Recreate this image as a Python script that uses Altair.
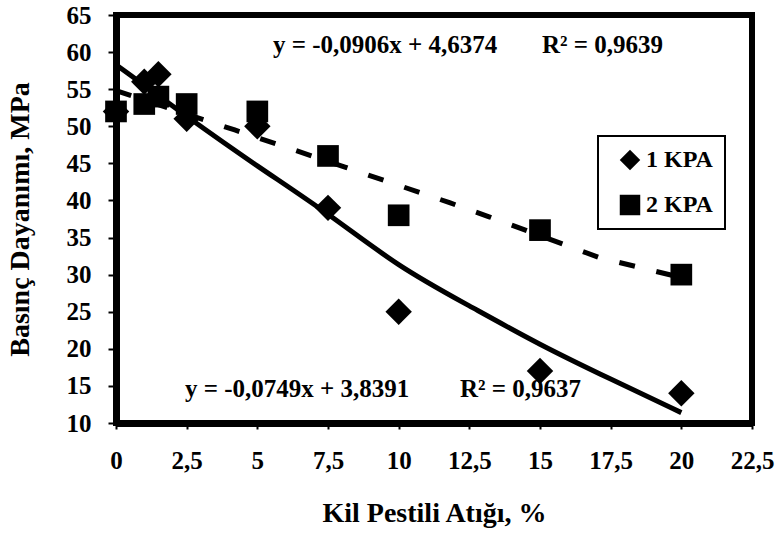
import altair as alt
import pandas as pd

FONT = "Liberation Serif"

# measured points
x_vals = [0, 1, 1.5, 2.5, 5, 7.5, 10, 15, 20]
kpa1 = [52, 56, 57, 51, 50, 39, 25, 17, 14]
kpa2 = [52, 53, 54, 53, 52, 46, 38, 36, 30]
series_names = ["1 KPA", "2 KPA"]

# trend curves
trend1_x = [0, 2.5, 5, 7.5, 10, 12.5, 15, 17.5, 20]
trend1_y = [58.3, 51.3, 44.6, 38.3, 31.0, 25.8, 20.5, 15.9, 11.4]
trend2_x = [0, 4.2, 8.1, 11.8, 13.2, 17.1, 20]
trend2_y = [54.8, 49.5, 44.5, 39.7, 37.8, 32.3, 29.6]

# annotations
eq_text = ["y = -0,0906x + 4,6374", "R² = 0,9639", "y = -0,0749x + 3,8391", "R² = 0,9637"]
eq_x = [5.55, 15.07, 2.44, 12.17]
eq_y = [59.9, 59.9, 13.5, 13.5]

x_ticks = [0, 2.5, 5, 7.5, 10, 12.5, 15, 17.5, 20, 22.5]
y_ticks = [10, 15, 20, 25, 30, 35, 40, 45, 50, 55, 60, 65]

d1 = pd.DataFrame({"x": x_vals, "y": kpa1, "series": series_names[0]})
d2 = pd.DataFrame({"x": x_vals, "y": kpa2, "series": series_names[1]})
t1 = pd.DataFrame({"x": trend1_x, "y": trend1_y})
t2 = pd.DataFrame({"x": trend2_x, "y": trend2_y})
ann = pd.DataFrame({"x": eq_x, "y": eq_y, "t": eq_text})

xscale = alt.Scale(domain=[0, 22.5], nice=False, zero=False)
yscale = alt.Scale(domain=[10, 65], nice=False, zero=False)

xaxis = alt.Axis(values=x_ticks, labelExpr="replace(toString(datum.value), '.', ',')",
                 title="Kil Pestili Atığı, %", grid=False, tickSize=6, labelPadding=19,
                 labelOverlap=False, labelFlush=False, titleY=98, titleBaseline="alphabetic")
yaxis = alt.Axis(values=y_ticks, title="Basınç Dayanımı, MPa", grid=False, tickSize=8,
                 labelPadding=17, labelOverlap=False, labelFlush=False, titleX=-88,
                 titleBaseline="alphabetic")

X = alt.X("x:Q", scale=xscale, axis=xaxis)
Y = alt.Y("y:Q", scale=yscale, axis=yaxis)

shape_enc = alt.Shape("series:N", scale=alt.Scale(domain=series_names, range=["diamond", "square"]),
                      legend=alt.Legend(title=None, orient="none", legendX=482, legendY=121,
                                        labelExpr="datum.label + '\u00a0\u00a0\u00a0\u00a0\u00a0'"))

line1 = alt.Chart(t1).mark_line(color="black", strokeWidth=5, interpolate="basis").encode(x=X, y=Y)
line2 = alt.Chart(t2).mark_line(color="black", strokeWidth=5, strokeDash=[16, 22]).encode(x=X, y=Y)

pts1 = alt.Chart(d1).mark_point(filled=True, color="black", opacity=1, size=700).encode(
    x=X, y=Y, shape=shape_enc)
pts2 = alt.Chart(d2).mark_point(filled=True, color="black", opacity=1, size=470).encode(
    x=X, y=Y, shape=shape_enc)

text = alt.Chart(ann).mark_text(font=FONT, fontSize=25, fontWeight="bold", align="left",
                                baseline="alphabetic", color="black").encode(x=X, y=Y, text="t:N")

chart = alt.layer(line1, line2, pts1, pts2, text).properties(
    width=636, height=408,
    autosize=alt.AutoSizeParams(type="none"),
    padding={"left": 116, "top": 15, "right": 26, "bottom": 110},
).configure_view(stroke="black", strokeWidth=6).configure_axis(
    domainColor="black", domainWidth=7, tickColor="black", tickWidth=2,
    labelFont=FONT, labelFontSize=25, labelFontWeight="bold", labelColor="black",
    titleFont=FONT, titleFontSize=28, titleFontWeight="bold", titleColor="black",
).configure_legend(
    strokeColor="black", strokeWidth=2, fillColor="white", padding=12,
    labelFont=FONT, labelFontSize=24, labelFontWeight="bold", labelColor="black",
    symbolSize=420, symbolFillColor="black", symbolStrokeColor="black", symbolStrokeWidth=0,
    rowPadding=21, labelOffset=4, symbolOffset=8,
)

chart.save("out.html", embed_options={"renderer": "svg", "actions": False})
